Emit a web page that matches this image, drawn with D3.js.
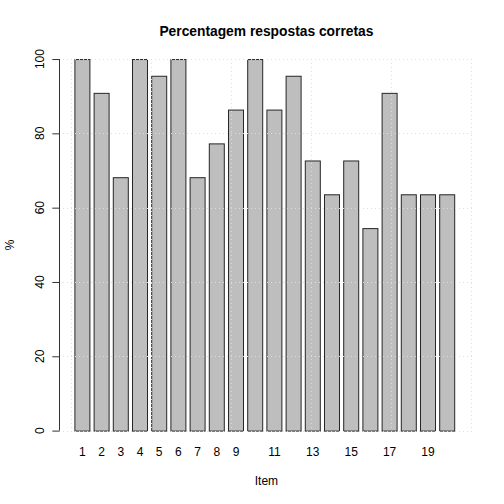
<!DOCTYPE html>
<html>
<head>
<meta charset="utf-8">
<script src="https://cdn.jsdelivr.net/npm/d3@7"></script>
<style>
body{margin:0;background:#fff;}
text{font-family:"Liberation Sans",Arial,Helvetica,sans-serif;fill:#000;}
</style>
</head>
<body>
<svg width="504" height="504"></svg>
<script>
// dados: % de respostas corretas por item
var itens = [1,2,3,4,5,6,7,8,9,10,11,12,13,14,15,16,17,18,19,20];
var valores = [100,90.9,68.2,100,95.5,100,68.2,77.3,86.4,100,86.4,95.5,72.7,63.6,72.7,54.5,90.9,63.6,63.6,63.6];
var rotulosX = [1,2,3,4,5,6,7,8,9,11,13,15,17,19];
var ticksY = [0,20,40,60,80,100];
var gradeX = [0,5,10,15,20,25];

var svg = d3.select("svg");

// regiao do grafico (margens tipo R)
var esq = 59.04, dir = 473.76, topo = 59.04, base = 430.6;

var x = d3.scaleLinear().domain([-0.76, 25.16]).range([esq, dir]);
var y = d3.scaleLinear().domain([0, 100]).range([base, topo]);

function xesq(i){ return 0.2 + i*1.2; }

// barras
svg.selectAll("rect.barra")
	.data(valores)
	.enter().append("rect")
	.attr("class","barra")
	.attr("x", function(d,i){ return x(xesq(i)) + 0.5; })
	.attr("y", function(d){ return y(d) + 0.5; })
	.attr("width", function(d,i){ return x(xesq(i)+1) - x(xesq(i)) - 1; })
	.attr("height", function(d){ return y(0) - y(d); })
	.style("fill","#bebebe")
	.style("stroke","#262626")
	.style("stroke-width",1);

// grade pontilhada (por cima das barras, como no R)
svg.selectAll("line.gy")
	.data(ticksY)
	.enter().append("line")
	.attr("x1", esq).attr("x2", dir)
	.attr("y1", function(d){ return Math.round(y(d)) + 0.5; })
	.attr("y2", function(d){ return Math.round(y(d)) + 0.5; })
	.style("stroke","#dedede")
	.style("stroke-dasharray","1,3");
svg.selectAll("line.gx")
	.data(gradeX)
	.enter().append("line")
	.attr("x1", function(d){ return Math.round(x(d)) + 0.5; })
	.attr("x2", function(d){ return Math.round(x(d)) + 0.5; })
	.attr("y1", topo).attr("y2", base)
	.style("stroke","#dedede")
	.style("stroke-dasharray","1,3");

// eixo y
var eixoY = svg.append("g")
	.attr("transform","translate(" + (Math.round(esq)+0.5) + ",0)")
	.call(d3.axisLeft(y).tickValues(ticksY).tickSize(7.2).tickPadding(0).tickFormat(""));
eixoY.select(".domain").attr("d","M0," + y(0) + "V" + y(100)).style("stroke","#333");
eixoY.selectAll(".tick line").style("stroke","#333");

svg.selectAll("text.ry")
	.data(ticksY)
	.enter().append("text")
	.attr("transform", function(d){ return "translate(43.5," + y(d) + ") rotate(-90)"; })
	.attr("text-anchor","middle")
	.attr("font-size",12)
	.text(function(d){ return d; });

// rotulos x
svg.selectAll("text.rx")
	.data(rotulosX)
	.enter().append("text")
	.attr("x", function(d){ return x(xesq(d-1)+0.5); })
	.attr("y", 455.5)
	.attr("text-anchor","middle")
	.attr("font-size",12)
	.text(function(d){ return d; });

// titulos
svg.append("text")
	.attr("x",(esq+dir)/2).attr("y",35.5)
	.attr("text-anchor","middle")
	.attr("font-size",13.8)
	.attr("font-weight","bold")
	.text("Percentagem respostas corretas");
svg.append("text")
	.attr("x",(esq+dir)/2).attr("y",485)
	.attr("text-anchor","middle")
	.attr("font-size",12)
	.text("Item");
svg.append("text")
	.attr("transform","translate(14," + (topo+base)/2 + ") rotate(-90)")
	.attr("text-anchor","middle")
	.attr("font-size",12)
	.text("%");
</script>
</body>
</html>
